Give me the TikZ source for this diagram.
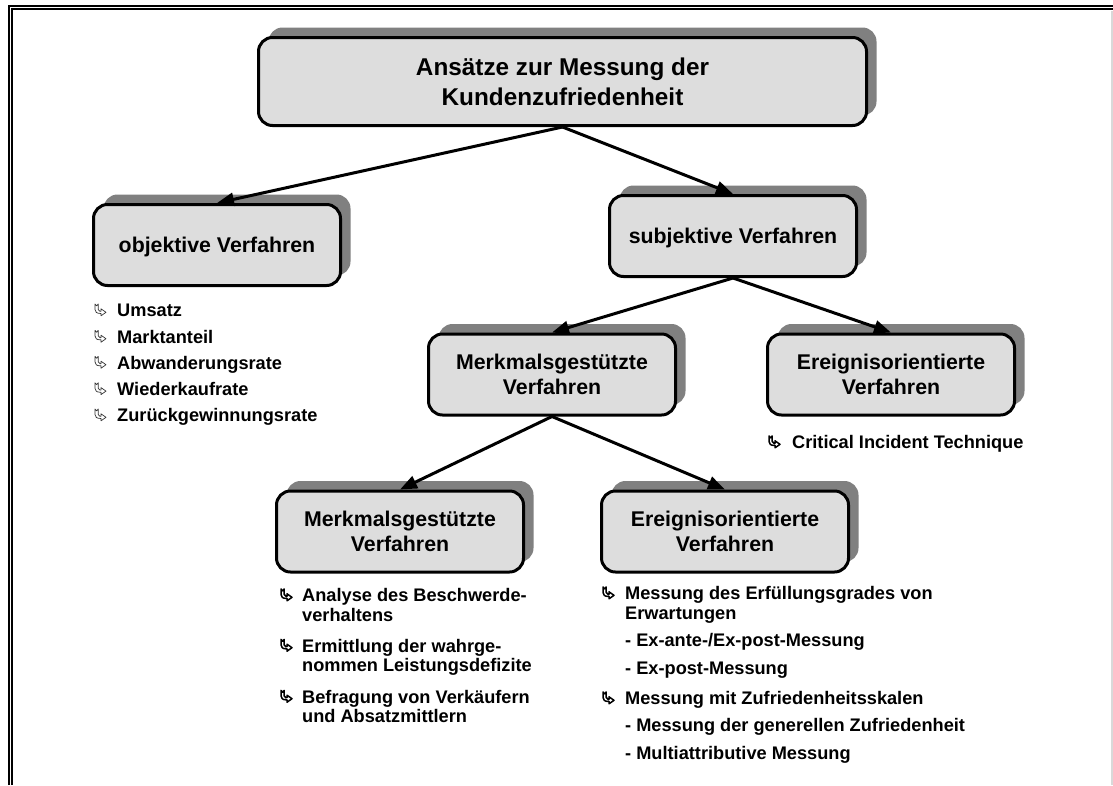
\documentclass[tikz,border=0pt]{standalone}
\usepackage{fontspec}
\setmainfont{Liberation Sans}
\usetikzlibrary{arrows.meta,shadows}
\definecolor{boxfill}{RGB}{221,221,221}
\definecolor{shadowgray}{RGB}{128,128,128}

\begin{document}
\begin{tikzpicture}[x=1pt,y=-1pt,
  box/.style={draw=black, line width=3pt, fill=boxfill, rounded corners=14pt,
    minimum width=247pt, minimum height=81pt, inner sep=0pt, align=center,
    font=\bfseries\fontsize{21.3}{25}\selectfont,
    drop shadow={shadow xshift=10pt, shadow yshift=10pt, fill=shadowgray, opacity=1}},
  oneline/.style={text height=15.5pt, text depth=0pt},
  titlebox/.style={box, minimum width=608pt, minimum height=88pt,
    font=\bfseries\fontsize{24.3}{30}\selectfont},
  conn/.style={line width=3pt, -{Triangle[length=17pt,width=13pt]}},
  listtext/.style={anchor=base west, inner sep=0pt, font=\bfseries\fontsize{18.2}{22}\selectfont},
  thinhook/.style={line width=0.7pt, draw=black!80},
  boldhook/.style={line width=1.5pt, draw=black},
  hook/.pic={
    \draw[#1, fill=white, line join=round]
      (0,0) -- (1.6,1.8) -- (3.2,0) -- (3.2,5.5)
      .. controls (3.2,6.8) and (3.8,7.3) .. (5,7.3) -- (6,7.3) -- (6,4.8)
      -- (11,8.3) -- (6,11.8) -- (6,9.4) -- (5,9.4)
      .. controls (1.8,9.4) and (0,8) .. (0,5.5) -- cycle;
  }
]
\useasboundingbox (0,0) rectangle (1113,785);

% frame: double rule on top and left, faint rule on the right
\draw[line width=2pt, line join=miter] (9,785) -- (9,5.8) -- (1113,5.8);
\draw[line width=1.6pt, line join=miter] (11.9,785) -- (11.9,9.2) -- (1113,9.2);
\draw[line width=1.5pt, black!15] (1112.2,11) -- (1112.2,785);

% boxes
\node[titlebox] (root) at (562.5,81.5) {Ansätze zur Messung der\\Kundenzufriedenheit};
\node[box, oneline] (obj) at (217,245) {objektive Verfahren};
\node[box, oneline] (subj) at (733,236) {subjektive Verfahren};
\node[box] (merk) at (552,374.5) {Merkmalsgestützte\\Verfahren};
\node[box] (ereig) at (891,374.5) {Ereignisorientierte\\Verfahren};
\node[box] (merkA) at (400,531.5) {Merkmalsgestützte\\Verfahren};
\node[box] (merkB) at (725,531.5) {Ereignisorientierte\\Verfahren};

% connectors
\draw[conn] (root.south) -- (obj.north);
\draw[conn] (root.south) -- (subj.north);
\draw[conn] (subj.south) -- (merk.north);
\draw[conn] (subj.south) -- (ereig.north);
\draw[conn] (merk.south) -- (merkA.north);
\draw[conn] (merk.south) -- (merkB.north);

% objective measures
\node[listtext] (o1) at (117,316.6) {Umsatz};
\node[listtext] (o2) at (117,343) {Marktanteil};
\node[listtext] (o3) at (117,369) {Abwanderungsrate};
\node[listtext] (o4) at (117,395.4) {Wiederkaufrate};
\node[listtext] (o5) at (117,421.6) {Zurückgewinnungsrate};
\foreach \yy in {316.6,343,369,395.4,421.6}
  \pic at (95,\yy-12.6) {hook=thinhook};

% event-oriented technique
\node[listtext] (c1) at (792,448.6) {Critical Incident Technique};
\pic at (769,448.6-12.6) {hook=boldhook};

% feature-based methods
\node[listtext] (a1) at (302,601.6) {Analyse des Beschwerde-};
\node[listtext] (a2) at (302,621) {verhaltens};
\node[listtext] (a3) at (302,652) {Ermittlung der wahrge-};
\node[listtext] (a4) at (302,671.5) {nommen Leistungsdefizite};
\node[listtext] (a5) at (302,703) {Befragung von Verkäufern};
\node[listtext] (a6) at (302,722.5) {und Absatzmittlern};
\foreach \yy in {601.6,652,703}
  \pic at (281,\yy-12.6) {hook=boldhook};

% event-oriented methods
\node[listtext] (b1) at (625,599.6) {Messung des Erfüllungsgrades von};
\node[listtext] (b2) at (625,619.6) {Erwartungen};
\node[listtext] (b3) at (625,646.6) {- Ex-ante-/Ex-post-Messung};
\node[listtext] (b4) at (625,674.6) {- Ex-post-Messung};
\node[listtext] (b5) at (625,704.6) {Messung mit Zufriedenheitsskalen};
\node[listtext] (b6) at (625,731.6) {- Messung der generellen Zufriedenheit};
\node[listtext] (b7) at (625,759.6) {- Multiattributive Messung};
\foreach \yy in {599.6,704.6}
  \pic at (603,\yy-12.6) {hook=boldhook};
\end{tikzpicture}
\end{document}
